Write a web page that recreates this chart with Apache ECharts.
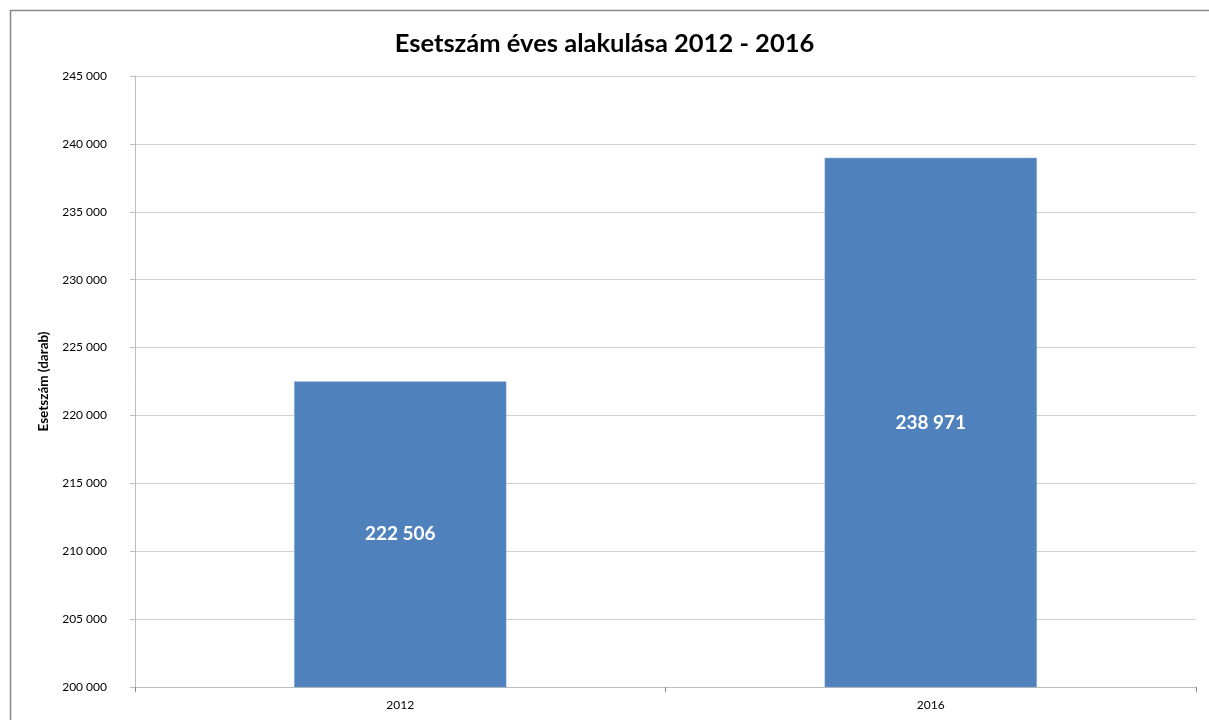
<!DOCTYPE html>
<html>
<head>
<meta charset="utf-8">
<script src="https://cdn.jsdelivr.net/npm/echarts@6/dist/echarts.min.js"></script>
<style>
html,body{margin:0;padding:0;background:#fff;}
#chart{width:1209px;height:720px;}
</style>
</head>
<body>
<div id="chart"></div>
<script>
const categories = ['2012', '2016'];
const values = [222506, 238971];
const titleText = 'Esetszám éves alakulása 2012 - 2016';
const yAxisName = 'Esetszám (darab)';

function fmt(v) {
  return String(v).replace(/\B(?=(\d{3})+(?!\d))/g, ' ');
}

const FONT = 'Lato, "Open Sans", sans-serif';
const chart = echarts.init(document.getElementById('chart'));
chart.setOption({
  animation: false,
  backgroundColor: '#fff',
  graphic: [{
    type: 'rect',
    shape: { x: 10.5, y: 10.5, width: 1230, height: 730 },
    style: { fill: 'none', stroke: '#888', lineWidth: 1.5 },
    silent: true
  }],
  title: {
    text: titleText,
    left: 'center',
    top: 26,
    textStyle: { fontFamily: FONT, fontSize: 25.5, fontWeight: 'bold', color: '#000' }
  },
  grid: { left: 135, right: 13, top: 76, bottom: 33 },
  xAxis: {
    type: 'category',
    data: categories,
    axisLine: { lineStyle: { color: '#bdbdbd', width: 1 } },
    axisTick: { show: true, alignWithLabel: false, length: 5, lineStyle: { color: '#888' } },
    axisLabel: { fontFamily: FONT, fontSize: 12, color: '#000', margin: 12 }
  },
  yAxis: {
    type: 'value',
    min: 200000,
    max: 245000,
    interval: 5000,
    name: yAxisName,
    nameLocation: 'middle',
    nameGap: 84,
    nameTextStyle: { fontFamily: FONT, fontSize: 13.5, fontWeight: 'bold', color: '#000' },
    axisLine: { show: true, lineStyle: { color: '#bdbdbd', width: 1 } },
    axisTick: { show: true, length: 5, lineStyle: { color: '#bdbdbd' } },
    axisLabel: { fontFamily: FONT, fontSize: 12, color: '#000', margin: 28, formatter: fmt },
    splitLine: { lineStyle: { color: '#d0d0d0', width: 1 } }
  },
  series: [{
    type: 'bar',
    data: values,
    barWidth: '40%',
    itemStyle: { color: '#4F81BD', borderColor: '#7a9fcf', borderWidth: 0.5 },
    label: {
      show: true,
      position: 'inside',
      formatter: p => fmt(p.value),
      fontFamily: FONT,
      fontSize: 19,
      fontWeight: 'bold',
      color: '#fff'
    }
  }]
});
</script>
</body>
</html>
